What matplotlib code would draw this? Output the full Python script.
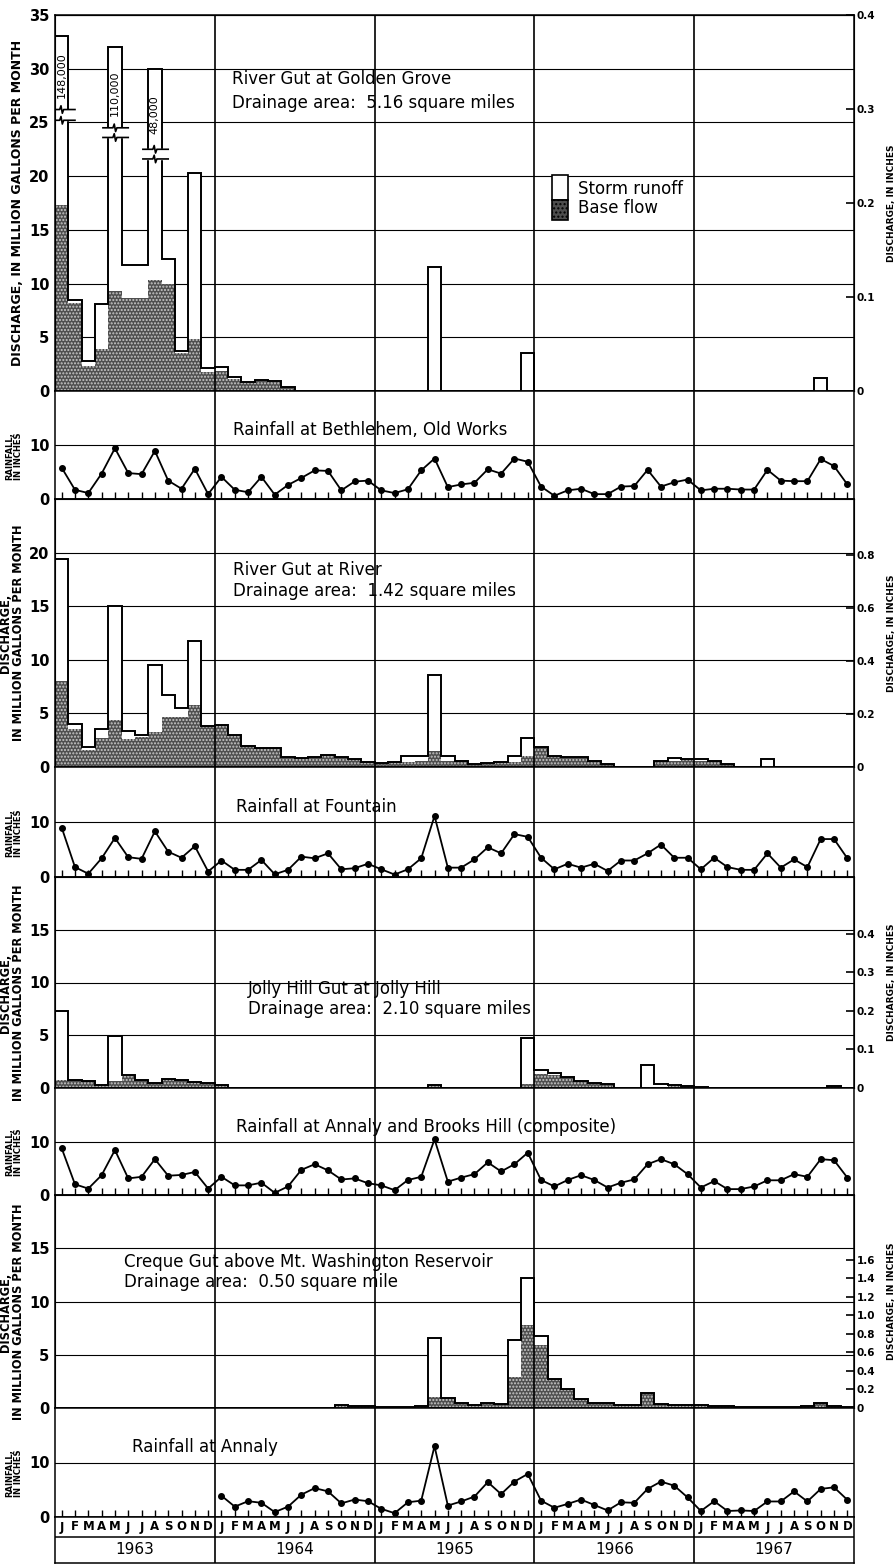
import numpy as np
import matplotlib.pyplot as plt

plt.rcParams['font.family'] = ['Liberation Sans Narrow', 'DejaVu Sans']

# ---- data: monthly values Jan 1963 .. Dec 1967 ----
years = ['1963', '1964', '1965', '1966', '1967']
month_letters = ['J', 'F', 'M', 'A', 'M', 'J', 'J', 'A', 'S', 'O', 'N', 'D']

# River Gut at Golden Grove (million gallons per month)
gg_total = [33.0, 8.5, 2.8, 8.1, 32.0, 11.7, 11.7, 30.0, 12.3, 3.7, 20.3, 2.1,
            2.2, 1.3, 0.8, 1.0, 0.9, 0.4, 0, 0, 0, 0, 0, 0,
            0, 0, 0, 0, 11.5, 0, 0, 0, 0, 0, 0, 3.5,
            0, 0, 0, 0, 0, 0, 0, 0, 0, 0, 0, 0,
            0, 0, 0, 0, 0, 0, 0, 0, 0, 1.2, 0, 0]
gg_base = [17.3, 8.2, 2.3, 3.9, 9.3, 8.7, 8.7, 10.3, 10.0, 3.5, 4.8, 1.8,
           1.9, 1.1, 0.7, 0.9, 0.8, 0.4, 0, 0, 0, 0, 0, 0,
           0, 0, 0, 0, 0, 0, 0, 0, 0, 0, 0, 0,
           0, 0, 0, 0, 0, 0, 0, 0, 0, 0, 0, 0,
           0, 0, 0, 0, 0, 0, 0, 0, 0, 0, 0, 0]
# (month index, lower break, upper break, true value label)
gg_breaks = [(0, 25.2, 26.2, '148,000'), (4, 23.6, 24.5, '110,000'),
             (7, 21.6, 22.5, '48,000')]

# River Gut at River
rv_total = [19.4, 4.0, 1.9, 3.5, 15.0, 3.4, 3.0, 9.5, 6.7, 5.5, 11.8, 3.8,
            3.9, 3.0, 2.0, 1.8, 1.8, 0.9, 0.8, 0.9, 1.1, 0.9, 0.7, 0.5,
            0.4, 0.5, 1.0, 1.0, 8.6, 1.0, 0.6, 0.3, 0.4, 0.5, 1.0, 2.7,
            1.9, 1.0, 0.9, 0.9, 0.6, 0.3, 0, 0, 0, 0.6, 0.8, 0.7,
            0.7, 0.6, 0.3, 0, 0, 0.7, 0, 0, 0, 0, 0, 0]
rv_base = [8.0, 3.5, 1.6, 2.7, 4.4, 2.6, 2.8, 3.3, 4.7, 4.7, 5.8, 3.8,
           3.9, 3.0, 2.0, 1.8, 1.8, 0.9, 0.8, 0.9, 1.1, 0.9, 0.7, 0.5,
           0.4, 0.5, 0.5, 0.6, 1.5, 0.6, 0.6, 0.3, 0.4, 0.5, 0.5, 1.0,
           1.9, 1.0, 0.9, 0.9, 0.6, 0.3, 0, 0, 0, 0.6, 0.6, 0.7,
           0.6, 0.6, 0.3, 0, 0, 0, 0, 0, 0, 0, 0, 0]

# Jolly Hill Gut at Jolly Hill
jh_total = [7.3, 0.8, 0.7, 0.3, 4.9, 1.2, 0.8, 0.5, 0.9, 0.8, 0.6, 0.5,
            0.3, 0, 0, 0, 0, 0, 0, 0, 0, 0, 0, 0,
            0, 0, 0, 0, 0.3, 0, 0, 0, 0, 0, 0, 4.7,
            1.7, 1.4, 1.0, 0.7, 0.5, 0.4, 0, 0, 2.2, 0.4, 0.3, 0.2,
            0.1, 0, 0, 0, 0, 0, 0, 0, 0, 0, 0.2, 0]
jh_base = [0.8, 0.8, 0.7, 0.3, 0.7, 1.1, 0.8, 0.5, 0.9, 0.8, 0.6, 0.5,
           0.3, 0, 0, 0, 0, 0, 0, 0, 0, 0, 0, 0,
           0, 0, 0, 0, 0.3, 0, 0, 0, 0, 0, 0, 0.4,
           1.3, 1.2, 1.0, 0.7, 0.5, 0.4, 0, 0, 0.1, 0.1, 0.3, 0.2,
           0.1, 0, 0, 0, 0, 0, 0, 0, 0, 0, 0.2, 0]

# Creque Gut above Mt. Washington Reservoir
cg_total = [0, 0, 0, 0, 0, 0, 0, 0, 0, 0, 0, 0,
            0, 0, 0, 0, 0, 0, 0, 0, 0, 0.3, 0.15, 0.15,
            0.1, 0.1, 0.1, 0.2, 6.6, 0.9, 0.5, 0.3, 0.5, 0.4, 6.4, 12.2,
            6.8, 2.7, 1.8, 0.8, 0.5, 0.5, 0.3, 0.3, 1.4, 0.4, 0.3, 0.3,
            0.3, 0.2, 0.15, 0.1, 0.1, 0.1, 0.1, 0.1, 0.2, 0.5, 0.2, 0.1]
cg_base = [0, 0, 0, 0, 0, 0, 0, 0, 0, 0, 0, 0,
           0, 0, 0, 0, 0, 0, 0, 0, 0, 0.3, 0.15, 0.15,
           0.1, 0.1, 0.1, 0.2, 1.0, 0.9, 0.5, 0.3, 0.5, 0.4, 2.9, 7.8,
           5.9, 2.7, 1.8, 0.8, 0.5, 0.5, 0.3, 0.3, 1.4, 0.4, 0.3, 0.3,
           0.3, 0.2, 0.15, 0.1, 0.1, 0.1, 0.1, 0.1, 0.2, 0.5, 0.2, 0.1]

# Rainfall, inches
rain_bethlehem = [5.8, 1.7, 1.1, 4.7, 9.4, 4.8, 4.6, 8.9, 3.4, 1.9, 5.6, 0.9,
                  4.1, 1.7, 1.25, 4.1, 0.8, 2.6, 3.9, 5.3, 5.2, 1.6, 3.25, 3.4,
                  1.6, 1.1, 1.8, 5.3, 7.5, 2.2, 2.7, 3.0, 5.5, 4.7, 7.5, 6.9,
                  2.3, 0.6, 1.6, 1.9, 0.9, 0.9, 2.3, 2.4, 5.4, 2.3, 3.1, 3.6,
                  1.6, 1.9, 1.9, 1.75, 1.75, 5.4, 3.4, 3.3, 3.3, 7.4, 6.1, 2.7]
rain_fountain = [9.0, 1.8, 0.6, 3.4, 7.1, 3.6, 3.3, 8.3, 4.6, 3.5, 5.6, 1.0,
                 3.0, 1.3, 1.3, 3.1, 0.5, 1.3, 3.7, 3.4, 4.3, 1.4, 1.6, 2.4,
                 1.4, 0.45, 1.4, 3.4, 11.1, 1.7, 1.7, 3.2, 5.4, 4.3, 7.8, 7.3,
                 3.5, 1.4, 2.4, 1.7, 2.4, 1.1, 3.0, 3.0, 4.3, 5.9, 3.5, 3.5,
                 1.4, 3.5, 1.8, 1.3, 1.3, 4.3, 1.7, 3.2, 1.8, 6.9, 6.9, 3.4]
rain_annaly_brooks = [8.75, 2.0, 1.2, 3.7, 8.4, 3.1, 3.4, 6.7, 3.6, 3.75, 4.3, 1.2,
                      3.4, 1.8, 1.8, 2.3, 0.4, 1.6, 4.7, 5.75, 4.6, 2.9, 3.1, 2.2,
                      1.8, 0.9, 2.8, 3.4, 10.4, 2.5, 3.25, 3.9, 6.1, 4.4, 5.75, 7.9,
                      2.8, 1.6, 2.8, 3.7, 2.8, 1.4, 2.3, 2.9, 5.75, 6.7, 5.75, 3.9,
                      1.4, 2.6, 1.1, 1.1, 1.6, 2.75, 2.75, 3.9, 3.4, 6.7, 6.5, 3.25]
rain_annaly = [np.nan] * 12 + [
    3.9, 1.9, 2.9, 2.6, 0.9, 1.9, 4.1, 5.3, 4.7, 2.5, 3.2, 2.9,
    1.5, 0.7, 2.7, 3.0, 13.0, 2.1, 2.85, 3.75, 6.4, 4.2, 6.5, 7.9,
    3.0, 1.7, 2.4, 3.2, 2.2, 1.2, 2.7, 2.6, 5.15, 6.5, 5.75, 3.6,
    1.1, 2.9, 1.1, 1.2, 1.1, 2.85, 2.85, 4.7, 2.85, 5.15, 5.45, 3.15]

# ---- layout (pixels) ----
W, H = 894, 1567
X0, X1 = 55, 854
fig = plt.figure(figsize=(W / 100, H / 100), dpi=100)
edges = np.arange(61)
mid = np.arange(60) + 0.5
year_bounds = [12, 24, 36, 48]
LAB = dict(fontweight='bold', family='DejaVu Sans')


def add_ax(top, bottom):
    ax = fig.add_axes([X0 / W, 1 - bottom / H, (X1 - X0) / W, (bottom - top) / H])
    ax.set_xlim(0, 60)
    for s in ax.spines.values():
        s.set_linewidth(1.1)
    return ax


def discharge_panel(top, bottom, total, base, ymax, yticks, factor, rticks, rlabels):
    ax = add_ax(top, bottom)
    ax.set_ylim(0, ymax)
    ax.set_yticks(yticks)
    ax.set_xticks([])
    ax.yaxis.grid(True, color='black', lw=0.8)
    ax.set_axisbelow(True)
    ax.stairs(total, edges, fill=True, facecolor='white', linewidth=0, zorder=1)
    ax.stairs(base, edges, fill=True, facecolor='#4e4e4e', edgecolor='#c8c8c8',
              hatch='.....', linewidth=0, zorder=2)
    ax.stairs(total, edges, color='black', lw=1.4, zorder=3)
    for xb in year_bounds:
        ax.axvline(xb, color='black', lw=1.2, zorder=4)
    ax.tick_params(axis='y', length=0, labelsize=10.5, pad=4)
    for lb in ax.get_yticklabels():
        lb.set_fontweight('bold')
    rax = ax.twinx()
    rax.set_ylim(0, ymax / factor)
    rax.set_yticks(rticks, rlabels)
    rax.tick_params(axis='y', direction='in', length=6, width=1.2, labelsize=7.5, pad=2)
    for lb in rax.get_yticklabels():
        lb.set_fontweight('bold')
        lb.set_family('DejaVu Sans')
    rax.set_ylabel('DISCHARGE, IN INCHES', fontsize=6.5, labelpad=8, **LAB)
    return ax


def rain_panel(top, bottom, vals, title, tx):
    ax = add_ax(top, bottom)
    ax.set_ylim(0, 20)
    ax.set_yticks([0, 10])
    ax.yaxis.grid(True, color='black', lw=0.8)
    ax.set_axisbelow(True)
    ax.plot(mid, vals, '-o', color='black', lw=1.3, ms=4, zorder=3)
    for xb in year_bounds:
        ax.axvline(xb, color='black', lw=1.2, zorder=4)
    ax.set_xticks(mid)
    ax.tick_params(axis='x', direction='in', length=5, width=1, labelbottom=False)
    ax.tick_params(axis='y', length=0, labelsize=10.5, pad=4)
    for lb in ax.get_yticklabels():
        lb.set_fontweight('bold')
    ax.set_ylabel('RAINFALL,\nIN INCHES', fontsize=6, linespacing=1.0, **LAB)
    ax.yaxis.set_label_coords(-0.04, 0.4)
    ax.text(tx, 12.8, title, fontsize=12, va='center')
    return ax


def two_line_label(ax, ypos):
    ax.set_ylabel('DISCHARGE,\nIN MILLION GALLONS PER MONTH', fontsize=8.3,
                  linespacing=1.0, **LAB)
    ax.yaxis.set_label_coords(-0.037, ypos)


# panel 1: River Gut at Golden Grove
ax1 = discharge_panel(15, 391, gg_total, gg_base, 35, range(0, 36, 5), 87.5,
                      [0, 0.1, 0.2, 0.3, 0.4], ['0', '0.1', '0.2', '0.3', '0.4'])
ax1.set_ylabel('DISCHARGE, IN MILLION GALLONS PER MONTH', fontsize=9, **LAB)
ax1.yaxis.set_label_coords(-0.039, 0.5)
for i, lo, hi, lab in gg_breaks:
    ax1.fill_between([i - 0.08, i + 1.08], lo, hi, color='white', zorder=3.5)
    for yv in (lo, hi):
        xs = [i - 0.4, i + 0.35, i + 0.45, i + 0.55, i + 0.65, i + 1.5]
        ys = [yv, yv, yv + 0.35, yv - 0.35, yv, yv]
        ax1.plot(xs, ys, color='black', lw=1.2, zorder=3.6)
    ax1.text(i + 0.5, hi + 3.2, lab, rotation=90, ha='center', va='center',
             fontsize=8, zorder=5)
ax1.text(13.3, 29.0, 'River Gut at Golden Grove', fontsize=12, va='center')
ax1.text(13.3, 26.8, 'Drainage area:  5.16 square miles', fontsize=12, va='center')
ax1.add_patch(plt.Rectangle((37.3, 17.8), 1.2, 2.3, facecolor='white',
                            edgecolor='black', lw=1.2, zorder=5))
ax1.add_patch(plt.Rectangle((37.3, 15.9), 1.2, 1.9, facecolor='#4e4e4e',
                            edgecolor='black', hatch='....', lw=1.2, zorder=5))
ax1.text(39.3, 18.8, 'Storm runoff', fontsize=12, va='center')
ax1.text(39.3, 17.0, 'Base flow', fontsize=12, va='center')

rain_panel(391, 499, rain_bethlehem, 'Rainfall at Bethlehem, Old Works', 13.4)

# panel 3: River Gut at River
ax3 = discharge_panel(499, 767, rv_total, rv_base, 25, range(0, 21, 5), 24.7,
                      [0, 0.2, 0.4, 0.6, 0.8], ['0', '0.2', '0.4', '0.6', '0.8'])
two_line_label(ax3, 0.5)
ax3.text(13.4, 18.4, 'River Gut at River', fontsize=12, va='center')
ax3.text(13.4, 16.4, 'Drainage area:  1.42 square miles', fontsize=12, va='center')

rain_panel(767, 877, rain_fountain, 'Rainfall at Fountain', 13.6)

# panel 5: Jolly Hill Gut
ax5 = discharge_panel(877, 1088, jh_total, jh_base, 20, range(0, 16, 5), 36.5,
                      [0, 0.1, 0.2, 0.3, 0.4], ['0', '0.1', '0.2', '0.3', '0.4'])
two_line_label(ax5, 0.45)
ax5.text(14.5, 9.4, 'Jolly Hill Gut at Jolly Hill', fontsize=12, va='center')
ax5.text(14.5, 7.5, 'Drainage area:  2.10 square miles', fontsize=12, va='center')

rain_panel(1088, 1195, rain_annaly_brooks,
           'Rainfall at Annaly and Brooks Hill (composite)', 13.6)

# panel 7: Creque Gut
ax7 = discharge_panel(1195, 1408, cg_total, cg_base, 20, range(0, 16, 5), 8.69,
                      np.arange(0, 1.61, 0.2),
                      ['0', '0.2', '0.4', '0.6', '0.8', '1.0', '1.2', '1.4', '1.6'])
two_line_label(ax7, 0.45)
ax7.text(5.2, 13.7, 'Creque Gut above Mt. Washington Reservoir', fontsize=12, va='center')
ax7.text(5.2, 11.8, 'Drainage area:  0.50 square mile', fontsize=12, va='center')

rain_panel(1408, 1517, rain_annaly, 'Rainfall at Annaly', 5.8)

# month / year table
axt = add_ax(1517, 1563)
axt.set_ylim(0, 46)
axt.set_xticks([])
axt.set_yticks([])
axt.axhline(26, color='black', lw=1.1)
for xb in year_bounds:
    axt.axvline(xb, color='black', lw=1.2)
for k in range(60):
    axt.text(k + 0.5, 36, month_letters[k % 12], ha='center', va='center',
             fontsize=8.5, fontweight='bold')
for j, yr in enumerate(years):
    axt.text(12 * j + 6, 13, yr, ha='center', va='center', fontsize=11)

fig.savefig('out.png', dpi=100)
